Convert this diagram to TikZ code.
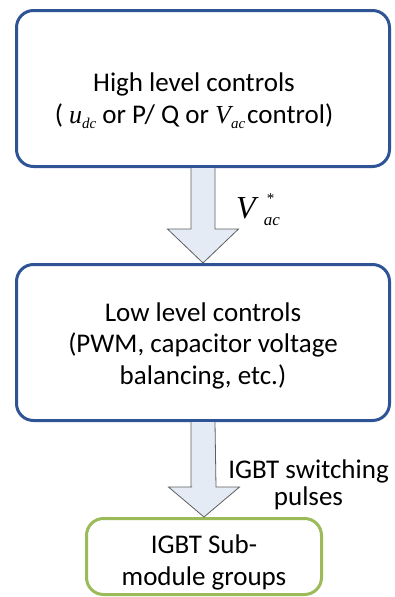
\documentclass[tikz,border=0pt]{standalone}
\usepackage{fontspec}
\setmainfont{Carlito}
\newfontfamily\tnr{Liberation Serif}
\usetikzlibrary{calc,positioning}
\definecolor{BoxBlue}{HTML}{2F5496}
\definecolor{LeafGreen}{HTML}{9BBB59}
\definecolor{ArrowFill}{HTML}{E4EBF5}
\definecolor{ArrowEdge}{HTML}{5F5F5F}
\newcommand{\ctrlvar}[2]{{\tnr\itshape\fontsize{26}{26}\selectfont #1\raisebox{-5pt}{\fontsize{15}{15}\selectfont #2}}}

\begin{document}
\begin{tikzpicture}[x=1pt,y=-1pt,node distance=95pt,
    box/.style={draw=BoxBlue,line width=3pt,rounded corners=17pt,fill=white,minimum width=373pt,minimum height=156pt},
    leaf/.style={draw=LeafGreen,line width=3pt,rounded corners=17pt,fill=white,minimum width=235pt,minimum height=76pt},
    txt/.style={align=center,font=\fontsize{27}{31.5}\selectfont,inner sep=0pt},
    blockarr/.style={draw=ArrowEdge,line width=0.8pt,fill=ArrowFill,line join=miter}]
    \useasboundingbox (0,0) rectangle (395,597);
    \node[box] (high) at (203,88.5) {};
    \node[box,below=of high] (low) {};
    \node[leaf,below=of low,xshift=1pt] (sub) {};
    \node[txt] (hightext) at ($(high.center)+(-9,12)$) {High level controls\\( \ctrlvar{u}{dc} or P/ Q or \ctrlvar{V}{ac}\kern2pt control)};
    \node[txt] (lowtext) at ($(low.center)+(0,3)$) {Low level controls\\(PWM, capacitor voltage\\balancing, etc.)};
    \node[txt] (subtext) at ($(sub.center)+(0,6)$) {IGBT Sub-\\module groups};
    % block arrows between the stages
    \draw[blockarr] ($(high.south)+(-12,0)$) |- ($(low.north)+(-12,-34)$) -- ++(-23.5,0) -- (low.north)
      -- ++(35.5,-34) -- ++(-23.5,0) -- ($(high.south)+(12,0)$);
    \draw[blockarr] ($(low.south)+(-12,0)$) |- ($(sub.north)+(-12,-30)$) -- ++(-23.5,0) -- (sub.north)
      -- ++(35.5,-30) -- ++(-23.5,0) -- ($(low.south)+(12,0)$);
    \node[inner sep=0pt] (vref) at ($(high.south)!0.5!(low.north)+(55,-6)$)
      {\tnr\itshape\fontsize{32}{32}\selectfont V\kern8pt\rlap{\kern3pt\raisebox{15pt}{\upshape\fontsize{15}{15}\selectfont *}}\raisebox{-7pt}{\fontsize{17}{17}\selectfont ac}};
    \node[txt,font=\fontsize{27}{27}\selectfont] (pulses) at ($(low.south)!0.5!(sub.north)+(105,15)$) {IGBT switching\\pulses};
  \end{tikzpicture}
\end{document}
